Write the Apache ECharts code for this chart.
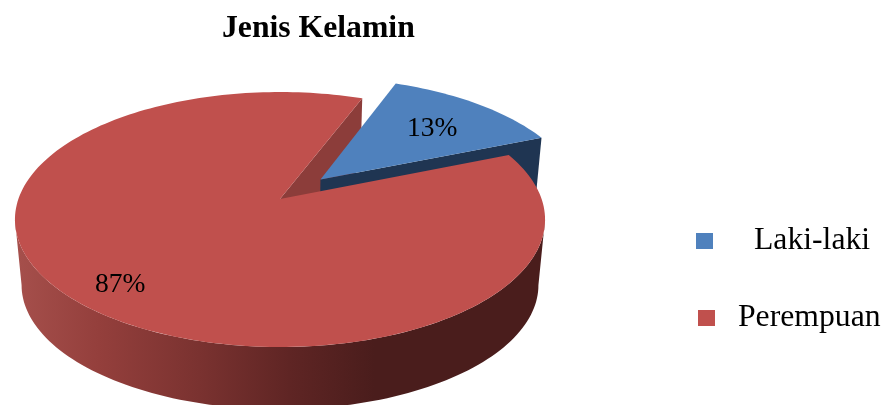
<!DOCTYPE html>
<html>
<head>
<meta charset="utf-8">
<style>html,body{margin:0;padding:0;background:#fff}#chart{width:891px;height:405px}</style>
<script src="https://cdn.jsdelivr.net/npm/echarts@6/dist/echarts.min.js"></script>
</head>
<body>
<div id="chart"></div>
<script>
const categories = ['Laki-laki', 'Perempuan'];
const values = [13, 87];
const topColors = ['#4F81BD', '#C0504D'];
const cutColors = ['#1F3552', '#8C3D3A'];

// Perspective of the tilted disc: ground (u, v) on a unit circle maps to the screen.
const view = { x: 280, y: 199, rx: 261.6, ry: 124.2, k: 0.161, floorY: 265, floorScale: 0.975 };
const startAngle = 68.8;
const explode = [0.226, 0];
const labelRadius = [0.69, 0.8];
const labelNudge = [[0, 3], [2, 8]];
// Silhouette angles of the disc: the outer wall is only seen between these two.
const wallFrom = -9.3;
const wallTo = -170.7;
const RAD = Math.PI / 180;
const total = values.reduce((a, b) => a + b, 0);

function project(u, v, floor) {
  const w = 1 + view.k * v;
  const s = floor ? view.floorScale : 1;
  const cy = floor ? view.floorY : view.y;
  return [view.x + s * view.rx * u / w, cy - s * view.ry * v / w];
}

function sliceAngles(index) {
  let from = startAngle;
  for (let i = 0; i < index; i++) from -= values[i] / total * 360;
  return [from, from - values[index] / total * 360];
}

function renderSlice(index) {
  const [a0, a1] = sliceAngles(index);
  const mid = (a0 + a1) / 2 * RAD;
  const ox = explode[index] * Math.cos(mid);
  const oy = explode[index] * Math.sin(mid);
  const at = (deg, r, floor) => project(ox + r * Math.cos(deg * RAD), oy + r * Math.sin(deg * RAD), floor);
  const arc = (from, to, floor) => {
    const pts = [];
    const n = Math.ceil(Math.abs(to - from) / 1.5);
    for (let i = 0; i <= n; i++) pts.push(at(from + (to - from) * i / n, 1, floor));
    return pts;
  };
  const apex = at(0, 0, false);
  const apexFloor = at(0, 0, true);
  const base = index === 0 ? 2 : 4;
  const label = at((a0 + a1) / 2, labelRadius[index], false);
  // Both slices show the cut face that closes their clockwise end.
  const children = [
    { type: 'polygon', z2: index === 0 ? base : 1,
      shape: { points: [apex, at(a1, 1, false), at(a1, 1, true), apexFloor] },
      style: { fill: cutColors[index] } },
    { type: 'polygon', z2: base + 1, shape: { points: [apex].concat(arc(a0, a1, false)) },
      style: { fill: topColors[index] } },
    { type: 'text', z2: 10, style: {
        text: values[index] + '%', x: label[0] + labelNudge[index][0], y: label[1] + labelNudge[index][1],
        fill: '#000', font: '27.5px "Liberation Serif"', align: 'center', verticalAlign: 'middle' } }
  ];
  const from = Math.min(a0, wallFrom);
  const to = Math.max(a1, wallTo);
  if (from > to) {
    children.push({
      type: 'polygon', z2: base,
      shape: { points: arc(from, to, false).concat(arc(to, from, true)) },
      style: { fill: new echarts.graphic.LinearGradient(14, 0, 544, 0, [
        { offset: 0, color: '#A6504C' },
        { offset: 0.16, color: '#943F3C' },
        { offset: 0.35, color: '#7A3230' },
        { offset: 0.52, color: '#5F2524' },
        { offset: 0.68, color: '#4A1D1C' },
        { offset: 1, color: '#4A1D1C' }
      ], true) }
    });
  }
  return { type: 'group', children };
}

const legendStyle = (name, left, top, pad) => ({
  data: [name], left, top, padding: 0, orient: 'vertical', itemWidth: 17, itemHeight: 16,
  selectedMode: false, icon: 'rect',
  textStyle: { fontFamily: 'Liberation Serif', fontSize: 31.7, color: '#000', padding: pad }
});

const chart = echarts.init(document.getElementById('chart'), null, { renderer: 'canvas' });
chart.setOption({
  animation: false,
  backgroundColor: '#fff',
  title: {
    text: 'Jenis Kelamin', left: 217, top: 8,
    textStyle: { fontFamily: 'Liberation Serif', fontWeight: 'bold', fontSize: 31.7, color: '#000' }
  },
  legend: [
    legendStyle(categories[0], 696, 225, [0, 0, 14, 36]),
    legendStyle(categories[1], 698, 302, [0, 0, -12, 18])
  ],
  series: categories.map((name, index) => ({
    type: 'custom',
    name,
    coordinateSystem: 'none',
    silent: true,
    itemStyle: { color: topColors[index] },
    data: [values[index]],
    renderItem: () => renderSlice(index)
  }))
});
</script>
</body>
</html>
